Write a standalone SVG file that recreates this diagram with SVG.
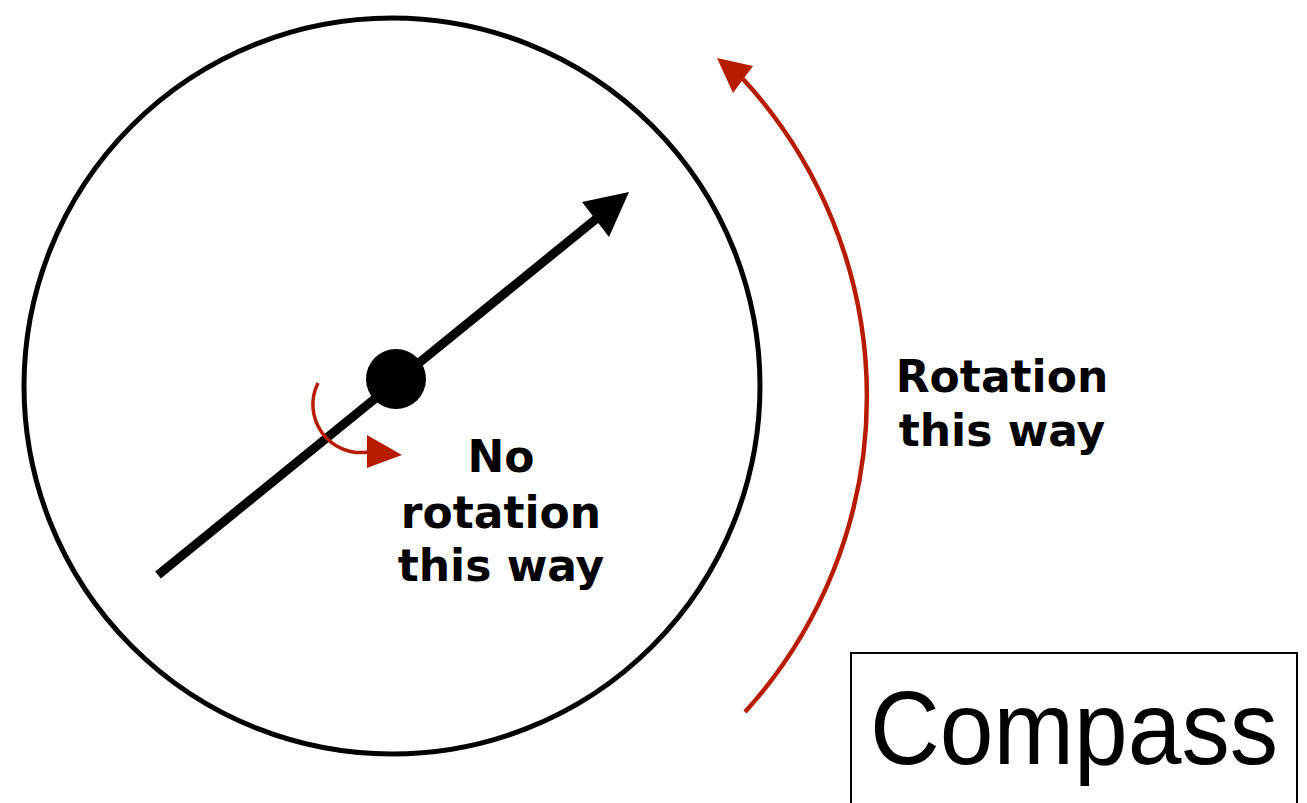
<svg xmlns="http://www.w3.org/2000/svg" width="1307" height="803" viewBox="0 0 1307 803">
<style>
.lbl{font-family:"DejaVu Sans",sans-serif;font-weight:bold;font-size:44px;fill:#000;text-anchor:middle}
.red{fill:none;stroke:#B81C00}
.redf{fill:#B81C00}
</style>
<rect width="1307" height="803" fill="#fff"/>
<g id="compass-dial">
<circle cx="392" cy="386" r="368" fill="none" stroke="#000" stroke-width="5"/>
</g>
<g id="connectors">
<g id="needle">
<line x1="158" y1="575" x2="596" y2="219" stroke="#000" stroke-width="9"/>
<polygon points="629,192 582,202 609,237" fill="#000"/>
</g>
<g id="no-rotation-arrow">
<path class="red" d="M318 383 A48 48 0 0 0 368 452" stroke-width="3.5"/>
<polygon class="redf" points="402,455 367,435 367,468"/>
</g>
<g id="rotation-arrow">
<path class="red" d="M745 712 A469 469 0 0 0 743 79" stroke-width="4.5"/>
<polygon class="redf" points="717,58 753,66 733,93"/>
</g>
</g>
<g id="pivot">
<circle cx="396" cy="379" r="30" fill="#000"/>
</g>
<g id="label-no-rotation">
<text class="lbl" x="501" y="472">No</text>
<text class="lbl" x="501" y="528">rotation</text>
<text class="lbl" x="501" y="581">this way</text>
</g>
<g id="label-rotation">
<text class="lbl" x="1002" y="392">Rotation</text>
<text class="lbl" x="1002" y="446">this way</text>
</g>
<g id="title">
<path d="M851 805 V653 H1297 V805" fill="none" stroke="#000" stroke-width="2"/>
<text x="870" y="764" font-family="'Liberation Sans',sans-serif" font-size="104" textLength="408" lengthAdjust="spacingAndGlyphs" fill="#000">Compass</text>
</g>
</svg>
